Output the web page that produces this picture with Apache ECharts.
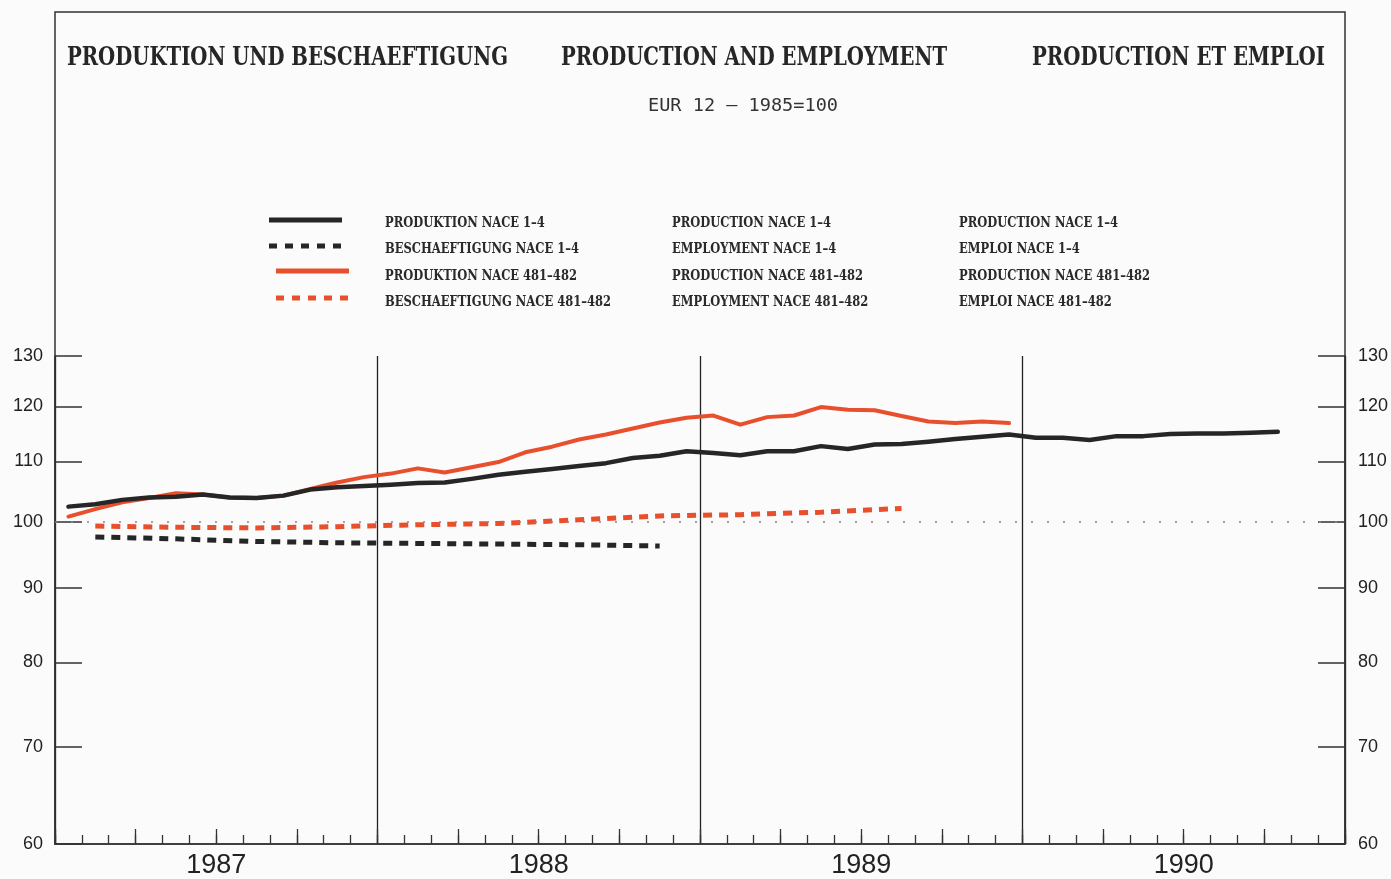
<!DOCTYPE html>
<html>
<head>
<meta charset="utf-8">
<script src="https://cdn.jsdelivr.net/npm/echarts@6/dist/echarts.min.js"></script>
<style>
html,body{margin:0;padding:0;background:#fbfbfb;}
#chart{width:1391px;height:879px;}
</style>
</head>
<body>
<div id="chart"></div>
<script>
// ---------------- DATA ----------------
const years = ['1987', '1988', '1989', '1990'];
const yTicks = [60, 70, 80, 90, 100, 110, 120, 130];
const referenceLevel = 100;

// monthly, Jan 1987 - Oct 1990
const prodNace14 = [
  102.4, 102.8, 103.5, 103.9, 104.0, 104.4, 103.9, 103.8, 104.2, 105.2, 105.6, 105.8,
  106.0, 106.3, 106.4, 107.0, 107.7, 108.2, 108.7, 109.2, 109.7, 110.6, 111.0, 111.8,
  111.5, 111.1, 111.8, 111.8, 112.7, 112.2, 113.0, 113.1, 113.5, 114.0, 114.4, 114.8,
  114.2, 114.2, 113.8, 114.5, 114.5, 114.9, 115.0, 115.0, 115.1, 115.3
];
// monthly, Jan 1987 - Dec 1989
const prodNace481 = [
  100.8, 102.0, 103.1, 103.8, 104.6, 104.4, 103.9, 103.8, 104.2, 105.3, 106.4, 107.3,
  107.9, 108.8, 108.1, 109.0, 109.9, 111.6, 112.6, 113.9, 114.8, 115.9, 117.0, 117.9,
  118.3, 116.6, 118.0, 118.3, 119.9, 119.4, 119.3, 118.2, 117.2, 116.9, 117.2, 116.9
];
// quarterly, Q1 1987 - Q4 1988
const empNace14 = [97.6, 97.3, 96.9, 96.7, 96.6, 96.5, 96.4, 96.2];
// quarterly, Q1 1987 - Q3 1989
const empNace481 = [99.3, 99.1, 99.0, 99.2, 99.5, 99.7, 100.3, 100.9, 101.1, 101.5, 102.1];

const titles = ['PRODUKTION UND BESCHAEFTIGUNG', 'PRODUCTION AND EMPLOYMENT', 'PRODUCTION ET EMPLOI'];
const subtitle = 'EUR 12 \u2013 1985=100';
const legendDE = ['PRODUKTION NACE 1\u20134', 'BESCHAEFTIGUNG NACE 1\u20134', 'PRODUKTION NACE 481\u2013482', 'BESCHAEFTIGUNG NACE 481\u2013482'];
const legendEN = ['PRODUCTION NACE 1\u20134', 'EMPLOYMENT NACE 1\u20134', 'PRODUCTION NACE 481\u2013482', 'EMPLOYMENT NACE 481\u2013482'];
const legendFR = ['PRODUCTION NACE 1\u20134', 'EMPLOI NACE 1\u20134', 'PRODUCTION NACE 481\u2013482', 'EMPLOI NACE 481\u2013482'];

// ---------------- HELPERS ----------------
const BLACK = '#262626';
const RED = '#e8502d';
const monthly = arr => arr.map((v, i) => [i + 0.5, Math.log10(v)]);
const quarterly = arr => arr.map((v, i) => [i * 3 + 1.5, Math.log10(v)]);

const mctx = document.createElement('canvas').getContext('2d');
function fitScale(text, font, target) {
  mctx.font = font;
  const w = mctx.measureText(text).width;
  return w > 0 ? target / w : 1;
}

const titleFont = 'bold 26px "DejaVu Serif Condensed", "DejaVu Serif", serif';
const legFont = 'bold 15px "DejaVu Serif Condensed", "DejaVu Serif", serif';
const subFont = '18px "DejaVu Sans Mono", monospace';

const titlePos = [[67, 441], [561, 386], [1032, 293]];
const legScale = fitScale(legendDE[3], legFont, 226);
const legRowsY = [223, 249, 276, 302];
const legLineY = [220, 246, 271, 298];

const graphics = [];
// frame
graphics.push({type: 'rect', z: 0, shape: {x: 55, y: 12, width: 1290, height: 832},
  style: {fill: null, stroke: '#333', lineWidth: 1.5}, silent: true});
titles.forEach((t, i) => {
  graphics.push({type: 'text', x: titlePos[i][0], y: 58, scaleX: fitScale(t, titleFont, titlePos[i][1]),
    style: {text: t, font: titleFont, fill: '#262626', textAlign: 'left', textVerticalAlign: 'middle'}});
});
graphics.push({type: 'text', x: 648, y: 106, scaleX: fitScale(subtitle, subFont, 190),
  style: {text: subtitle, font: subFont, fill: '#333', textAlign: 'left', textVerticalAlign: 'middle'}});
// legend samples
const legSamples = [
  {x1: 269, x2: 342, color: BLACK, dash: null},
  {x1: 269, x2: 342, color: BLACK, dash: [8, 8]},
  {x1: 276, x2: 349, color: RED, dash: null},
  {x1: 276, x2: 349, color: RED, dash: [8, 8]}
];
legSamples.forEach((s, i) => {
  graphics.push({type: 'line', shape: {x1: s.x1, y1: legLineY[i], x2: s.x2, y2: legLineY[i]},
    style: {stroke: s.color, lineWidth: 5, lineDash: s.dash}});
  [[385, legendDE], [672, legendEN], [959, legendFR]].forEach(([x, arr]) => {
    graphics.push({type: 'text', x: x, y: legRowsY[i], scaleX: legScale,
      style: {text: arr[i], font: legFont, fill: '#2a2a2a', textAlign: 'left', textVerticalAlign: 'middle'}});
  });
});

const yMin = Math.log10(yTicks[0]);
const yMax = Math.log10(yTicks[yTicks.length - 1]);
const yTickVals = yTicks.map(v => Math.log10(v));
const yLabelFmt = v => String(Math.round(Math.pow(10, v)));

function yAxis(pos) {
  return {
    type: 'value', position: pos, min: yMin, max: yMax,
    axisLine: {show: true, onZero: false, lineStyle: {color: '#333', width: 1.5}},
    axisTick: {show: true, inside: true, length: 27, customValues: yTickVals, lineStyle: {color: '#333', width: 1.5}},
    axisLabel: {show: true, customValues: yTickVals, formatter: yLabelFmt, margin: pos === 'left' ? 12 : 13,
      color: '#222', fontSize: 18, fontFamily: '"Liberation Sans", Arial, sans-serif'},
    splitLine: {show: false}
  };
}

const option = {
  backgroundColor: '#fbfbfb',
  animation: false,
  grid: {left: 55, right: 46, top: 356, bottom: 35, containLabel: false},
  graphic: graphics,
  xAxis: [
    {type: 'value', min: 0, max: 48, interval: 1, position: 'bottom',
      axisLine: {show: true, onZero: false, lineStyle: {color: '#333', width: 1.5}},
      axisTick: {show: true, inside: true, length: 9, lineStyle: {color: '#333', width: 1.3}},
      axisLabel: {show: false}, splitLine: {show: false}},
    {type: 'value', min: 0, max: 48, interval: 3, position: 'bottom',
      axisLine: {show: false, onZero: false},
      axisTick: {show: true, inside: true, length: 15, lineStyle: {color: '#333', width: 1.3}},
      axisLabel: {show: false}, splitLine: {show: false}},
    {type: 'category', data: years, boundaryGap: true, position: 'bottom',
      axisLine: {show: false, onZero: false}, axisTick: {show: false},
      axisLabel: {show: true, interval: 0, margin: 8, fontSize: 27, color: '#222',
        fontFamily: '"Liberation Sans", Arial, sans-serif'},
      splitLine: {show: true, interval: 0, lineStyle: {color: '#222', width: 1.3}}}
  ],
  yAxis: [yAxis('left'), yAxis('right')],
  series: [
    {name: 'PRODUKTION NACE 1-4', type: 'line', xAxisIndex: 0, yAxisIndex: 0, data: monthly(prodNace14),
      showSymbol: false, symbol: 'none', z: 5,
      lineStyle: {color: BLACK, width: 4.5, cap: 'round', join: 'round'},
      markLine: {silent: true, symbol: 'none', label: {show: false},
        lineStyle: {color: '#888', type: [2, 14], width: 1.5},
        data: [{yAxis: Math.log10(referenceLevel)}]}},
    {name: 'BESCHAEFTIGUNG NACE 1-4', type: 'line', xAxisIndex: 0, yAxisIndex: 0, data: quarterly(empNace14),
      showSymbol: false, symbol: 'none', z: 4,
      lineStyle: {color: BLACK, width: 5, type: [9, 7]}},
    {name: 'PRODUKTION NACE 481-482', type: 'line', xAxisIndex: 0, yAxisIndex: 0, data: monthly(prodNace481),
      showSymbol: false, symbol: 'none', z: 4,
      lineStyle: {color: RED, width: 4, cap: 'round', join: 'round'}},
    {name: 'BESCHAEFTIGUNG NACE 481-482', type: 'line', xAxisIndex: 0, yAxisIndex: 0, data: quarterly(empNace481),
      showSymbol: false, symbol: 'none', z: 4,
      lineStyle: {color: RED, width: 5, type: [9, 7]}}
  ]
};

const chart = echarts.init(document.getElementById('chart'), null, {renderer: 'canvas', width: 1391, height: 879});
chart.setOption(option);
</script>
</body>
</html>
